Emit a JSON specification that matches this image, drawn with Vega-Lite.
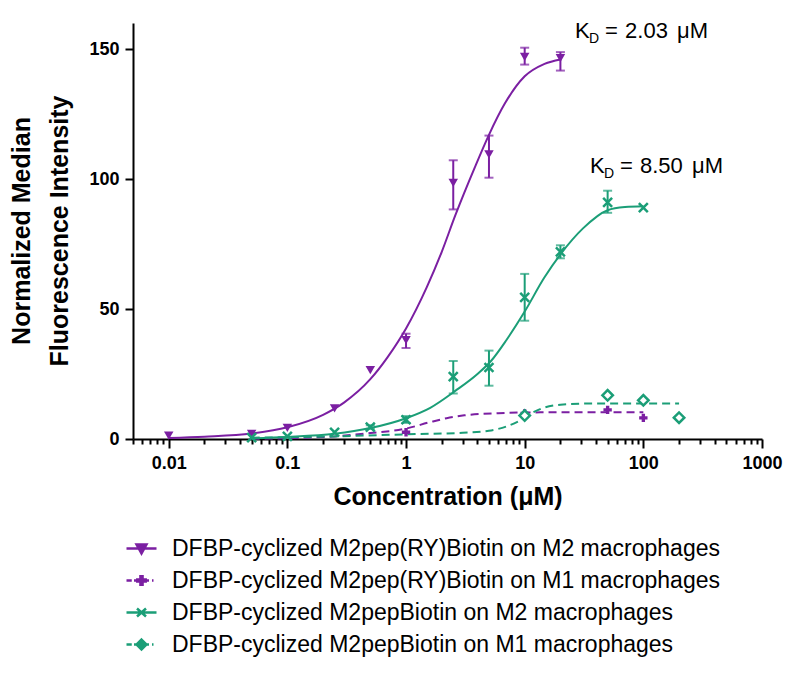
{
  "$schema": "https://vega.github.io/schema/vega-lite/v6.json",
  "autosize": {"type": "none"},
  "padding": {"left": 133, "top": 23, "right": 38, "bottom": 234},
  "width": 629,
  "height": 416,
  "background": "white",
  "config": {
    "font": "Liberation Sans",
    "view": {"stroke": null}
  },
  "title": {
    "text": ["Normalized Median", "Fluorescence Intensity"],
    "orient": "left",
    "anchor": "middle",
    "fontSize": 25,
    "fontWeight": "bold",
    "color": "black",
    "lineHeight": 38,
    "offset": 16
  },
  "datasets": {
    "points": [
      {"series": "DFBP-cyclized M2pep(RY)Biotin on M2 macrophages", "conc": 0.01, "value": 1.3},
      {"series": "DFBP-cyclized M2pep(RY)Biotin on M2 macrophages", "conc": 0.05, "value": 2.0},
      {"series": "DFBP-cyclized M2pep(RY)Biotin on M2 macrophages", "conc": 0.1, "value": 4.3},
      {"series": "DFBP-cyclized M2pep(RY)Biotin on M2 macrophages", "conc": 0.25, "value": 11.8},
      {"series": "DFBP-cyclized M2pep(RY)Biotin on M2 macrophages", "conc": 0.5, "value": 26.5},
      {"series": "DFBP-cyclized M2pep(RY)Biotin on M2 macrophages", "conc": 1, "value": 38, "lo": 35, "hi": 40.5},
      {"series": "DFBP-cyclized M2pep(RY)Biotin on M2 macrophages", "conc": 2.5, "value": 98.5, "lo": 88.3, "hi": 107.2},
      {"series": "DFBP-cyclized M2pep(RY)Biotin on M2 macrophages", "conc": 5, "value": 109.5, "lo": 100.5, "hi": 116.7},
      {"series": "DFBP-cyclized M2pep(RY)Biotin on M2 macrophages", "conc": 10, "value": 147, "lo": 144, "hi": 150.5},
      {"series": "DFBP-cyclized M2pep(RY)Biotin on M2 macrophages", "conc": 20, "value": 146.5, "lo": 141.7, "hi": 148.8},
      {"series": "DFBP-cyclized M2pep(RY)Biotin on M1 macrophages", "conc": 1, "value": 2.6},
      {"series": "DFBP-cyclized M2pep(RY)Biotin on M1 macrophages", "conc": 10, "value": 9.8},
      {"series": "DFBP-cyclized M2pep(RY)Biotin on M1 macrophages", "conc": 50, "value": 11.2},
      {"series": "DFBP-cyclized M2pep(RY)Biotin on M1 macrophages", "conc": 100, "value": 8.1},
      {"series": "DFBP-cyclized M2pepBiotin on M2 macrophages", "conc": 0.05, "value": 0.5},
      {"series": "DFBP-cyclized M2pepBiotin on M2 macrophages", "conc": 0.1, "value": 1.0},
      {"series": "DFBP-cyclized M2pepBiotin on M2 macrophages", "conc": 0.25, "value": 2.6},
      {"series": "DFBP-cyclized M2pepBiotin on M2 macrophages", "conc": 0.5, "value": 4.6, "lo": 3.9, "hi": 5.3},
      {"series": "DFBP-cyclized M2pepBiotin on M2 macrophages", "conc": 1, "value": 7.4, "lo": 6.2, "hi": 8.8},
      {"series": "DFBP-cyclized M2pepBiotin on M2 macrophages", "conc": 2.5, "value": 24, "lo": 17.5, "hi": 30},
      {"series": "DFBP-cyclized M2pepBiotin on M2 macrophages", "conc": 5, "value": 27.5, "lo": 20.5, "hi": 34},
      {"series": "DFBP-cyclized M2pepBiotin on M2 macrophages", "conc": 10, "value": 54.5, "lo": 45.5, "hi": 63.5},
      {"series": "DFBP-cyclized M2pepBiotin on M2 macrophages", "conc": 20, "value": 72, "lo": 69.5, "hi": 74.5},
      {"series": "DFBP-cyclized M2pepBiotin on M2 macrophages", "conc": 50, "value": 91, "lo": 87, "hi": 95.5},
      {"series": "DFBP-cyclized M2pepBiotin on M2 macrophages", "conc": 100, "value": 89},
      {"series": "DFBP-cyclized M2pepBiotin on M1 macrophages", "conc": 10, "value": 9},
      {"series": "DFBP-cyclized M2pepBiotin on M1 macrophages", "conc": 50, "value": 16.8},
      {"series": "DFBP-cyclized M2pepBiotin on M1 macrophages", "conc": 100, "value": 14.9},
      {"series": "DFBP-cyclized M2pepBiotin on M1 macrophages", "conc": 200, "value": 8.2}
    ],
    "curves": [
      {"series": "p2", "conc": 0.01, "fit": 0.4},
      {"series": "p2", "conc": 0.02, "fit": 0.9},
      {"series": "p2", "conc": 0.05, "fit": 2.1},
      {"series": "p2", "conc": 0.1, "fit": 4.5},
      {"series": "p2", "conc": 0.2, "fit": 9.3},
      {"series": "p2", "conc": 0.3, "fit": 14},
      {"series": "p2", "conc": 0.5, "fit": 23},
      {"series": "p2", "conc": 0.7, "fit": 31.5},
      {"series": "p2", "conc": 1, "fit": 42.5},
      {"series": "p2", "conc": 1.5, "fit": 58.5},
      {"series": "p2", "conc": 2, "fit": 72},
      {"series": "p2", "conc": 2.6, "fit": 86},
      {"series": "p2", "conc": 3.8, "fit": 104.5},
      {"series": "p2", "conc": 5, "fit": 117},
      {"series": "p2", "conc": 6.8, "fit": 129},
      {"series": "p2", "conc": 10, "fit": 139.5},
      {"series": "p2", "conc": 14.7, "fit": 144.3},
      {"series": "p2", "conc": 20, "fit": 146},
      {"series": "p1", "conc": 0.05, "fit": 0.1},
      {"series": "p1", "conc": 0.1, "fit": 0.3},
      {"series": "p1", "conc": 0.25, "fit": 1.0},
      {"series": "p1", "conc": 0.5, "fit": 2.3},
      {"series": "p1", "conc": 1, "fit": 4.0},
      {"series": "p1", "conc": 1.6, "fit": 6.5},
      {"series": "p1", "conc": 2.2, "fit": 8.0},
      {"series": "p1", "conc": 3.1, "fit": 9.1},
      {"series": "p1", "conc": 6, "fit": 9.9},
      {"series": "p1", "conc": 10, "fit": 10.2},
      {"series": "p1", "conc": 30, "fit": 10.3},
      {"series": "p1", "conc": 100, "fit": 10.3},
      {"series": "g2", "conc": 0.05, "fit": 0.3},
      {"series": "g2", "conc": 0.1, "fit": 0.8},
      {"series": "g2", "conc": 0.25, "fit": 2.0},
      {"series": "g2", "conc": 0.5, "fit": 4.2},
      {"series": "g2", "conc": 1, "fit": 8.0},
      {"series": "g2", "conc": 1.6, "fit": 12},
      {"series": "g2", "conc": 2.6, "fit": 18.5},
      {"series": "g2", "conc": 4, "fit": 25},
      {"series": "g2", "conc": 5.2, "fit": 30},
      {"series": "g2", "conc": 7, "fit": 38},
      {"series": "g2", "conc": 10, "fit": 49},
      {"series": "g2", "conc": 14.6, "fit": 62},
      {"series": "g2", "conc": 20, "fit": 71},
      {"series": "g2", "conc": 31, "fit": 81},
      {"series": "g2", "conc": 50, "fit": 88},
      {"series": "g2", "conc": 70, "fit": 89.2},
      {"series": "g2", "conc": 100, "fit": 89.5},
      {"series": "g1", "conc": 0.05, "fit": 0.5},
      {"series": "g1", "conc": 0.25, "fit": 1.0},
      {"series": "g1", "conc": 1, "fit": 1.8},
      {"series": "g1", "conc": 3, "fit": 2.4},
      {"series": "g1", "conc": 5, "fit": 3.2},
      {"series": "g1", "conc": 7, "fit": 4.8},
      {"series": "g1", "conc": 9, "fit": 7},
      {"series": "g1", "conc": 11, "fit": 9.5},
      {"series": "g1", "conc": 14, "fit": 11.8},
      {"series": "g1", "conc": 20, "fit": 13.2},
      {"series": "g1", "conc": 30, "fit": 13.6},
      {"series": "g1", "conc": 50, "fit": 13.7},
      {"series": "g1", "conc": 200, "fit": 13.7}
    ],
    "kd": [
      {"conc": 26.6, "value": 154.1, "num": "2.03"},
      {"conc": 35.5, "value": 102.3, "num": "8.50"}
    ]
  },
  "layer": [
    {
      "data": {"name": "curves"},
      "transform": [{"filter": "datum.series === 'p2'"}],
      "mark": {"type": "line", "color": "#7b1fa2", "strokeWidth": 2, "interpolate": "monotone"},
      "encoding": {
        "x": {
          "field": "conc", "type": "quantitative",
          "scale": {"type": "log", "domain": [0.005, 1000], "nice": false},
          "axis": {
            "title": "Concentration (μM)",
            "values": [0.005, 0.006, 0.007, 0.008, 0.009, 0.01, 0.02, 0.03, 0.04, 0.05, 0.06, 0.07, 0.08, 0.09, 0.1, 0.2, 0.3, 0.4, 0.5, 0.6, 0.7, 0.8, 0.9, 1, 2, 3, 4, 5, 6, 7, 8, 9, 10, 20, 30, 40, 50, 60, 70, 80, 90, 100, 200, 300, 400, 500, 600, 700, 800, 900, 1000],
            "labelExpr": "indexof([0.01,0.1,1,10,100,1000], datum.value) >= 0 ? '' + datum.value : ''",
            "labelOverlap": false,
            "labelFlush": false,
            "tickSize": {"condition": {"test": "indexof([0.01,0.1,1,10,100,1000], datum.value) >= 0", "value": 9}, "value": 5},
            "grid": false,
            "domainColor": "black", "domainWidth": 2,
            "tickColor": "black", "tickWidth": 2,
            "labelFontSize": 18, "labelFontWeight": "bold", "labelColor": "black", "labelPadding": 6,
            "titleFontSize": 25, "titleFontWeight": "bold", "titleColor": "black",
            "titleY": 65, "titleBaseline": "alphabetic"
          }
        },
        "y": {
          "field": "fit", "type": "quantitative", "title": null,
          "scale": {"domain": [0, 160], "nice": false},
          "axis": {
            "title": null,
            "values": [0, 50, 100, 150],
            "grid": false,
            "tickSize": 8,
            "domainColor": "black", "domainWidth": 2,
            "tickColor": "black", "tickWidth": 2,
            "labelFontSize": 18, "labelFontWeight": "bold", "labelColor": "black", "labelPadding": 6
          }
        }
      }
    },
    {
      "data": {"name": "curves"},
      "transform": [{"filter": "datum.series === 'p1'"}],
      "mark": {"type": "line", "color": "#7b1fa2", "strokeWidth": 2, "strokeDash": [8, 5], "interpolate": "monotone"},
      "encoding": {
        "x": {"field": "conc", "type": "quantitative"},
        "y": {"field": "fit", "type": "quantitative", "title": null}
      }
    },
    {
      "data": {"name": "curves"},
      "transform": [{"filter": "datum.series === 'g2'"}],
      "mark": {"type": "line", "color": "#1b9e77", "strokeWidth": 2, "interpolate": "monotone"},
      "encoding": {
        "x": {"field": "conc", "type": "quantitative"},
        "y": {"field": "fit", "type": "quantitative", "title": null}
      }
    },
    {
      "data": {"name": "curves"},
      "transform": [{"filter": "datum.series === 'g1'"}],
      "mark": {"type": "line", "color": "#1b9e77", "strokeWidth": 2, "strokeDash": [8, 5], "interpolate": "monotone"},
      "encoding": {
        "x": {"field": "conc", "type": "quantitative"},
        "y": {"field": "fit", "type": "quantitative", "title": null}
      }
    },
    {
      "data": {"name": "points"},
      "transform": [{"filter": "datum.series === 'DFBP-cyclized M2pep(RY)Biotin on M2 macrophages' && isValid(datum.lo)"}],
      "mark": {"type": "errorbar", "color": "#7b1fa2", "thickness": 2, "ticks": {"size": 9, "thickness": 2, "color": "#7b1fa2"}},
      "encoding": {
        "x": {"field": "conc", "type": "quantitative"},
        "y": {"field": "lo", "type": "quantitative", "title": null},
        "y2": {"field": "hi"}
      }
    },
    {
      "data": {"name": "points"},
      "transform": [{"filter": "datum.series === 'DFBP-cyclized M2pepBiotin on M2 macrophages' && isValid(datum.lo)"}],
      "mark": {"type": "errorbar", "color": "#1b9e77", "thickness": 2, "ticks": {"size": 9, "thickness": 2, "color": "#1b9e77"}},
      "encoding": {
        "x": {"field": "conc", "type": "quantitative"},
        "y": {"field": "lo", "type": "quantitative", "title": null},
        "y2": {"field": "hi"}
      }
    },
    {
      "data": {"name": "points"},
      "transform": [{"filter": "datum.series === 'DFBP-cyclized M2pep(RY)Biotin on M2 macrophages'"}],
      "mark": {"type": "point", "shape": "triangle-down", "filled": true, "color": "#7b1fa2", "size": 90, "opacity": 1},
      "encoding": {
        "x": {"field": "conc", "type": "quantitative"},
        "y": {"field": "value", "type": "quantitative", "title": null}
      }
    },
    {
      "data": {"name": "points"},
      "transform": [{"filter": "datum.series === 'DFBP-cyclized M2pep(RY)Biotin on M1 macrophages'"}],
      "mark": {"type": "point", "shape": "cross", "filled": true, "color": "#7b1fa2", "size": 70, "opacity": 1},
      "encoding": {
        "x": {"field": "conc", "type": "quantitative"},
        "y": {"field": "value", "type": "quantitative", "title": null}
      }
    },
    {
      "data": {"name": "points"},
      "transform": [{"filter": "datum.series === 'DFBP-cyclized M2pepBiotin on M2 macrophages'"}],
      "mark": {"type": "point", "shape": "M-1,-1L1,1M-1,1L1,-1", "filled": false, "color": "#1b9e77", "strokeWidth": 2.5, "size": 80, "opacity": 1},
      "encoding": {
        "x": {"field": "conc", "type": "quantitative"},
        "y": {"field": "value", "type": "quantitative", "title": null}
      }
    },
    {
      "data": {"name": "points"},
      "transform": [{"filter": "datum.series === 'DFBP-cyclized M2pepBiotin on M1 macrophages'"}],
      "mark": {"type": "point", "shape": "diamond", "filled": true, "fill": "white", "stroke": "#1b9e77", "strokeWidth": 2.5, "size": 110, "opacity": 1},
      "encoding": {
        "x": {"field": "conc", "type": "quantitative"},
        "y": {"field": "value", "type": "quantitative", "title": null}
      }
    },
    {
      "data": {"name": "kd"},
      "mark": {"type": "text", "text": "K", "align": "left", "baseline": "alphabetic", "fontSize": 22, "color": "black"},
      "encoding": {
        "x": {"field": "conc", "type": "quantitative"},
        "y": {"field": "value", "type": "quantitative", "title": null}
      }
    },
    {
      "data": {"name": "kd"},
      "mark": {"type": "text", "text": "D", "align": "left", "baseline": "alphabetic", "fontSize": 14, "dx": 14, "dy": 5, "color": "black"},
      "encoding": {
        "x": {"field": "conc", "type": "quantitative"},
        "y": {"field": "value", "type": "quantitative", "title": null}
      }
    },
    {
      "data": {"name": "kd"},
      "mark": {"type": "text", "text": "=", "align": "left", "baseline": "alphabetic", "fontSize": 22, "dx": 30, "color": "black"},
      "encoding": {
        "x": {"field": "conc", "type": "quantitative"},
        "y": {"field": "value", "type": "quantitative", "title": null}
      }
    },
    {
      "data": {"name": "kd"},
      "mark": {"type": "text", "align": "left", "baseline": "alphabetic", "fontSize": 22, "dx": 50, "color": "black"},
      "encoding": {
        "x": {"field": "conc", "type": "quantitative"},
        "y": {"field": "value", "type": "quantitative", "title": null},
        "text": {"field": "num"}
      }
    },
    {
      "data": {"name": "kd"},
      "mark": {"type": "text", "text": "μM", "align": "left", "baseline": "alphabetic", "fontSize": 22, "dx": 102, "color": "black"},
      "encoding": {
        "x": {"field": "conc", "type": "quantitative"},
        "y": {"field": "value", "type": "quantitative", "title": null}
      }
    },
    {
      "data": {"name": "points"},
      "transform": [{"filter": "datum.conc < 0"}],
      "mark": {"type": "point", "filled": true, "strokeWidth": 2.5, "opacity": 1},
      "encoding": {
        "color": {
          "field": "series", "type": "nominal",
          "scale": {
            "domain": ["DFBP-cyclized M2pep(RY)Biotin on M2 macrophages", "DFBP-cyclized M2pep(RY)Biotin on M1 macrophages", "DFBP-cyclized M2pepBiotin on M2 macrophages", "DFBP-cyclized M2pepBiotin on M1 macrophages"],
            "range": ["#7b1fa2", "#7b1fa2", "#1b9e77", "#1b9e77"]
          },
          "legend": {
            "title": null, "orient": "none", "legendX": -8, "legendY": 509, "direction": "vertical",
            "symbolSize": 900, "symbolStrokeWidth": 2.5, "symbolOpacity": 1,
            "labelFontSize": 23, "labelColor": "black", "labelOffset": 14, "labelLimit": 1000,
            "rowPadding": 3, "padding": 0
          }
        },
        "stroke": {
          "field": "series", "type": "nominal",
          "scale": {
            "domain": ["DFBP-cyclized M2pep(RY)Biotin on M2 macrophages", "DFBP-cyclized M2pep(RY)Biotin on M1 macrophages", "DFBP-cyclized M2pepBiotin on M2 macrophages", "DFBP-cyclized M2pepBiotin on M1 macrophages"],
            "range": ["#7b1fa2", "#7b1fa2", "#1b9e77", "#1b9e77"]
          },
          "legend": {
            "title": null, "orient": "none", "legendX": -8, "legendY": 509, "direction": "vertical",
            "symbolSize": 900, "symbolStrokeWidth": 2.5, "symbolOpacity": 1,
            "labelFontSize": 23, "labelColor": "black", "labelOffset": 14, "labelLimit": 1000,
            "rowPadding": 3, "padding": 0
          }
        },
        "shape": {
          "field": "series", "type": "nominal",
          "scale": {
            "domain": ["DFBP-cyclized M2pep(RY)Biotin on M2 macrophages", "DFBP-cyclized M2pep(RY)Biotin on M1 macrophages", "DFBP-cyclized M2pepBiotin on M2 macrophages", "DFBP-cyclized M2pepBiotin on M1 macrophages"],
            "range": [
              "M-1,0L1,0M-0.33,-0.27L0.33,-0.27L0,0.33Z",
              "M-1,0L-0.65,0M-0.5,0L-0.3,0M0.3,0L0.5,0M0.7,0L0.8,0M-0.28,-0.07L-0.07,-0.07L-0.07,-0.28L0.07,-0.28L0.07,-0.07L0.28,-0.07L0.28,0.07L0.07,0.07L0.07,0.28L-0.07,0.28L-0.07,0.07L-0.28,0.07Z",
              "M-1,0L1,0M-0.3,-0.27L0.3,0.27M-0.3,0.27L0.3,-0.27",
              "M-1,0L-0.65,0M-0.5,0L-0.35,0M0.35,0L0.5,0M0.7,0L0.8,0M0,-0.33L0.33,0L0,0.33L-0.33,0Z"
            ]
          },
          "legend": {
            "title": null, "orient": "none", "legendX": -8, "legendY": 509, "direction": "vertical",
            "symbolSize": 900, "symbolStrokeWidth": 2.5, "symbolOpacity": 1,
            "labelFontSize": 23, "labelColor": "black", "labelOffset": 14, "labelLimit": 1000,
            "rowPadding": 3, "padding": 0
          }
        }
      }
    }
  ]
}
